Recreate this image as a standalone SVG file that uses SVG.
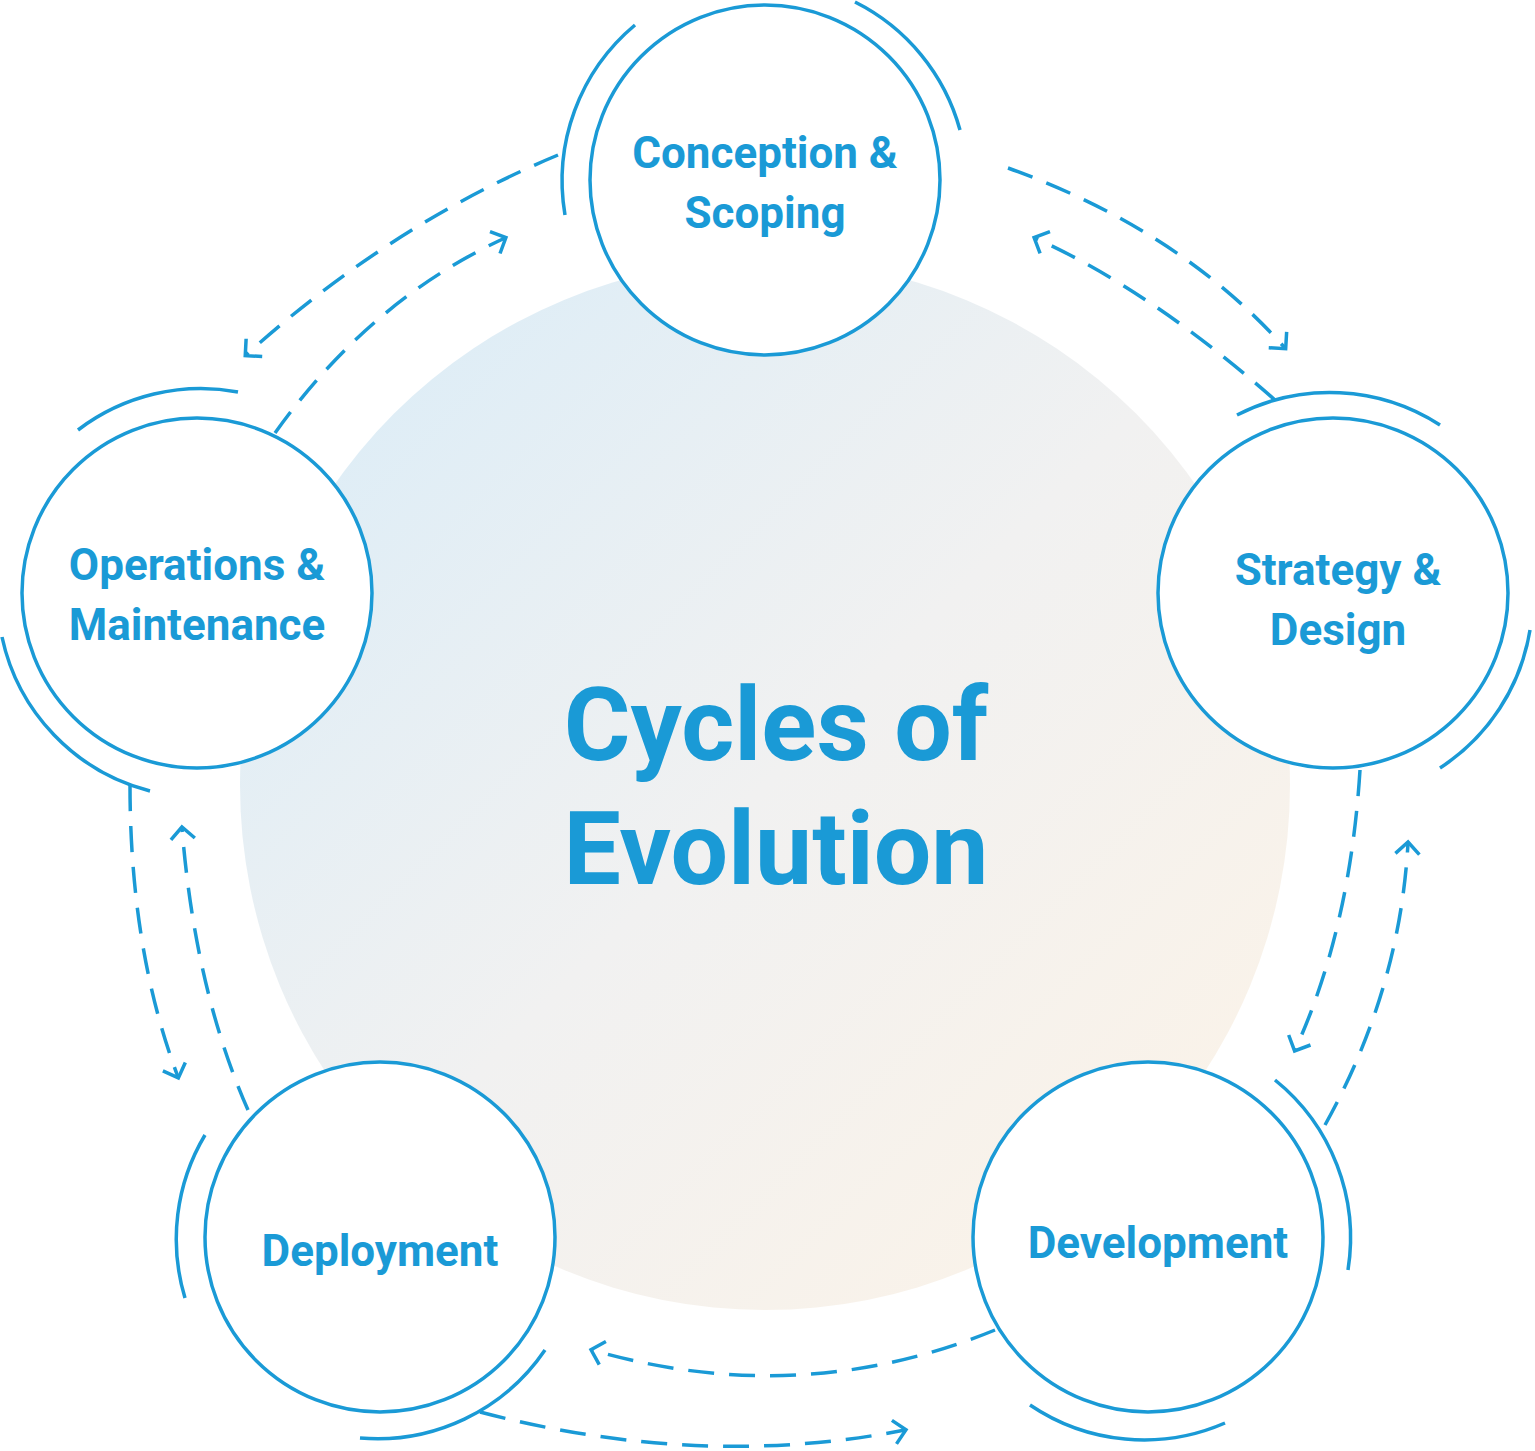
<svg xmlns="http://www.w3.org/2000/svg" width="1535" height="1451" viewBox="0 0 1535 1451">
<style>
.node{fill:#fff;stroke:#1a9ad6;stroke-width:3.5}
.arc{fill:none;stroke:#1a9ad6;stroke-width:3.5}
.dash{fill:none;stroke:#1a9ad6;stroke-width:3.5;stroke-dasharray:26 15;marker-end:url(#ah)}
.lbl{font-family:Roboto,"Liberation Sans",sans-serif;font-weight:bold;font-size:44px;fill:#1a9ad6;text-anchor:middle}
.title{font-family:Roboto,"Liberation Sans",sans-serif;font-weight:bold;font-size:102px;fill:#1a9ad6;text-anchor:middle}
</style>
<defs>
<linearGradient id="bg" x1="0" y1="0" x2="1" y2="1">
<stop offset="0" stop-color="#d8ecf8"/>
<stop offset="0.5" stop-color="#f1f1f1"/>
<stop offset="1" stop-color="#fdf3e6"/>
</linearGradient>
<marker id="ah" markerUnits="userSpaceOnUse" markerWidth="34" markerHeight="34" viewBox="-17 -17 34 34" refX="0" refY="0" orient="auto">
<path d="M-11,-12 L1,0 L-11,12" fill="none" stroke="#1a9ad6" stroke-width="3.5"/>
</marker>
</defs>
<rect width="1535" height="1451" fill="#fff"/>
<circle cx="765" cy="785" r="525" fill="url(#bg)"/>
<text class="title" x="776" y="760">Cycles of</text>
<text class="title" x="776" y="884">Evolution</text>
<g id="connectors">
<path class="dash" d="M1008,168 Q1180,230 1285,348"/>
<path class="dash" d="M1275,400 Q1150,290 1035,238"/>
<path class="dash" d="M1360,770 Q1350,930 1295,1050"/>
<path class="dash" d="M1325,1125 Q1400,990 1408,843"/>
<path class="dash" d="M995,1330 Q800,1410 592,1350"/>
<path class="dash" d="M480,1412 Q700,1470 905,1430"/>
<path class="dash" d="M130,785 Q130,950 178,1077"/>
<path class="dash" d="M248,1110 Q195,990 182,828"/>
<path class="dash" d="M558,155 Q390,225 246,355"/>
<path class="dash" d="M275,433 Q370,300 505,238"/>
</g>
<g id="conception">
<path class="arc" d="M565,215 A203,203 0 0 1 635,25"/>
<path class="arc" d="M855,2 A203,203 0 0 1 960,130"/>
<circle class="node" cx="765" cy="180" r="175"/>
<text class="lbl" x="765" y="168">Conception &amp;</text>
<text class="lbl" x="765" y="228">Scoping</text>
</g>
<g id="operations">
<path class="arc" d="M78,430 A203,203 0 0 1 238,392"/>
<path class="arc" d="M2,637 A203,203 0 0 0 150,791"/>
<circle class="node" cx="197" cy="593" r="175"/>
<text class="lbl" x="197" y="580">Operations &amp;</text>
<text class="lbl" x="197" y="640">Maintenance</text>
</g>
<g id="strategy">
<path class="arc" d="M1237,415 A203,203 0 0 1 1440,425"/>
<path class="arc" d="M1530,630 A203,203 0 0 1 1440,768"/>
<circle class="node" cx="1333" cy="593" r="175"/>
<text class="lbl" x="1338" y="585">Strategy &amp;</text>
<text class="lbl" x="1338" y="645">Design</text>
</g>
<g id="development">
<path class="arc" d="M1275,1080 A203,203 0 0 1 1348,1270"/>
<path class="arc" d="M1225,1423 A203,203 0 0 1 1030,1405"/>
<circle class="node" cx="1148" cy="1237" r="175"/>
<text class="lbl" x="1158" y="1258">Development</text>
</g>
<g id="deployment">
<path class="arc" d="M205,1135 A203,203 0 0 0 185,1298"/>
<path class="arc" d="M545,1350 A203,203 0 0 1 360,1438"/>
<circle class="node" cx="380" cy="1237" r="175"/>
<text class="lbl" x="380" y="1266">Deployment</text>
</g>
</svg>
